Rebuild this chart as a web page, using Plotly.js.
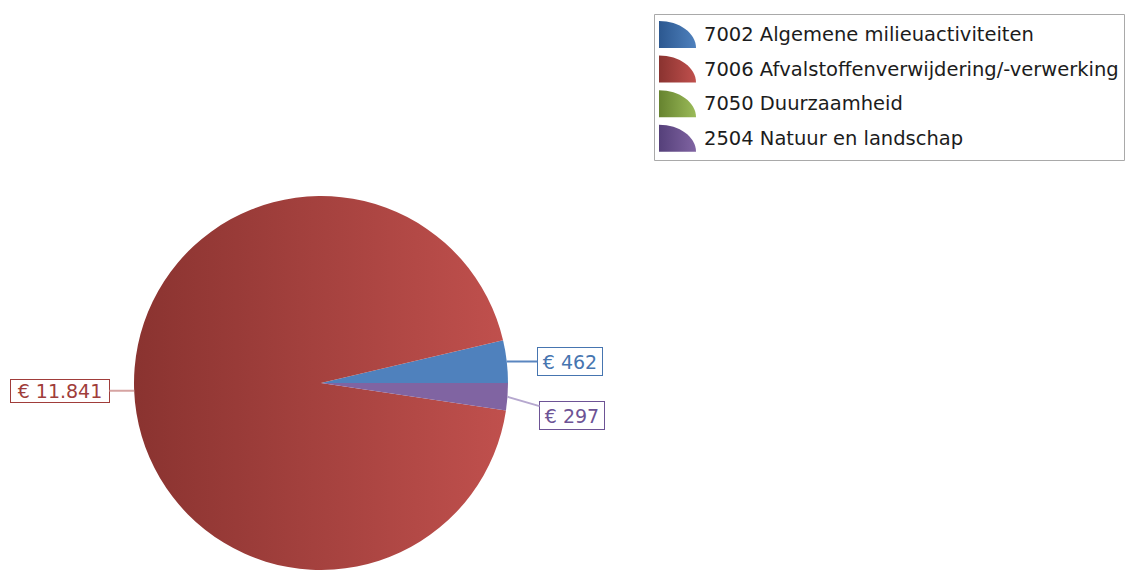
<!DOCTYPE html>
<html>
<head>
<meta charset="utf-8">
<script src="https://cdn.plot.ly/plotly-3.0.1.min.js"></script>
<style>
  html, body { margin: 0; padding: 0; background: #ffffff; }
  #chart { width: 1126px; height: 570px; }
</style>
</head>
<body>
<div id="chart"></div>
<script>
// ---- data ----
const categories = [
  '7002 Algemene milieuactiviteiten',
  '7006 Afvalstoffenverwijdering/-verwerking',
  '7050 Duurzaamheid',
  '2504 Natuur en landschap'
];
const values = [462, 11841, 0, 297];
const colors = ['#4F81BD', '#C0504D', '#9BBB59', '#8064A2'];
const darkColors = ['#2c5890', '#8a3330', '#66832f', '#55407a'];
const labelTextColors = ['#4675b0', '#a03d3a', '#7a9a40', '#6d5395'];
const leaderColors = ['#5a86c0', '#d6a4a2', '#b5cc8a', '#b6a8cf'];

// ---- layout helpers (pixels -> paper) ----
const W = 1126, H = 570;
const px = x => x / W;
const py = y => 1 - y / H;

const pieCx = 321, pieCy = 383, pieR = 187;
// label box centres (pixels), per slice index
const labelBoxes = { 0: [570, 361.5], 1: [60, 391], 2: null, 3: [572, 415.5] };
const labelSizes = { 0: [64, 27], 1: [98, 22], 3: [64, 27] };

function fmt(v) {
  return '€ ' + String(v).replace(/\B(?=(\d{3})+(?!\d))/g, '.');
}

// slice mid angles (counterclockwise from east, starting at east)
const total = values.reduce((a, b) => a + b, 0);
const annotations = [];
let acc = 0;
values.forEach((v, i) => {
  const a0 = acc / total * 2 * Math.PI;
  acc += v;
  const a1 = acc / total * 2 * Math.PI;
  if (v <= 0 || !labelBoxes[i]) return;
  const mid = (a0 + a1) / 2;
  const tipX = pieCx + pieR * Math.cos(mid);
  const tipY = pieCy - pieR * Math.sin(mid);
  const box = labelBoxes[i];
  annotations.push({
    xref: 'paper', yref: 'paper',
    x: px(tipX), y: py(tipY),
    ax: box[0] - tipX, ay: box[1] - tipY, axref: 'pixel', ayref: 'pixel',
    text: fmt(v),
    showarrow: true, arrowhead: 0, arrowwidth: 2, arrowcolor: leaderColors[i],
    font: { family: 'DejaVu Sans, Verdana, sans-serif', size: 19, color: labelTextColors[i] },
    bordercolor: labelTextColors[i], borderwidth: 1, borderpad: 0,
    bgcolor: '#ffffff',
    width: labelSizes[i][0], height: labelSizes[i][1],
    align: 'center', valign: 'middle'
  });
});

// ---- custom legend ----
const shapes = [{
  type: 'rect', xref: 'paper', yref: 'paper',
  x0: px(654.5), x1: px(1124.5), y0: py(14.5), y1: py(160.5),
  line: { color: '#a9a9a9', width: 1 }, fillcolor: 'rgba(0,0,0,0)'
}];
const rowStep = 34.6;
categories.forEach((c, i) => {
  const top = 21 + rowStep * i, bot = top + 27, L = 659, R = 696;
  const k = 0.5523;
  const path = 'M ' + px(L) + ',' + py(bot) +
    ' L ' + px(L) + ',' + py(top) +
    ' C ' + px(L + k * (R - L)) + ',' + py(top) + ' ' + px(R) + ',' + py(bot - k * (bot - top)) + ' ' + px(R) + ',' + py(bot) + ' Z';
  shapes.push({
    type: 'path', xref: 'paper', yref: 'paper', path: path,
    fillcolor: colors[i], line: { width: 0 }
  });
  annotations.push({
    xref: 'paper', yref: 'paper', x: px(703), y: py(34.5 + rowStep * i),
    xanchor: 'left', yanchor: 'middle', showarrow: false, borderpad: 0,
    text: c,
    font: { family: 'DejaVu Sans, Verdana, sans-serif', size: 19.5, color: '#1c1c1c' }
  });
});

// first slice should start at 3 o'clock and run counterclockwise
const rotation = 90 - 360 * values[0] / total;

const trace = {
  type: 'pie',
  labels: categories,
  values: values,
  sort: false,
  direction: 'counterclockwise',
  rotation: rotation,
  textinfo: 'none',
  hoverinfo: 'skip',
  showlegend: false,
  marker: { colors: colors, line: { width: 0 } },
  domain: { x: [px(pieCx - pieR), px(pieCx + pieR)], y: [Math.max(0, py(pieCy + pieR)), py(pieCy - pieR)] }
};

const layout = {
  width: W, height: H,
  margin: { l: 0, r: 0, t: 0, b: 0 },
  paper_bgcolor: '#ffffff', plot_bgcolor: '#ffffff',
  showlegend: false,
  shapes: shapes,
  annotations: annotations,
  font: { family: 'DejaVu Sans, Verdana, sans-serif' }
};

Plotly.newPlot('chart', [trace], layout, { staticPlot: true, displayModeBar: false }).then(gd => {
  // add horizontal gradients (dark left -> base right), like the original
  const svg = gd.querySelector('svg.main-svg');
  const NS = 'http://www.w3.org/2000/svg';
  const defs = document.createElementNS(NS, 'defs');
  colors.forEach((c, i) => {
    const lg = document.createElementNS(NS, 'linearGradient');
    lg.setAttribute('id', 'grad' + i);
    lg.setAttribute('x1', '0'); lg.setAttribute('y1', '0');
    lg.setAttribute('x2', '1'); lg.setAttribute('y2', '0');
    const s0 = document.createElementNS(NS, 'stop');
    s0.setAttribute('offset', '0'); s0.setAttribute('stop-color', darkColors[i]);
    const s1 = document.createElementNS(NS, 'stop');
    s1.setAttribute('offset', '1'); s1.setAttribute('stop-color', c);
    lg.appendChild(s0); lg.appendChild(s1);
    defs.appendChild(lg);
  });
  svg.insertBefore(defs, svg.firstChild);
  // red slice spans the whole pie width -> gradient
  gd.querySelectorAll('g.slice').forEach(g => {
    const d = g.__data__;
    if (d && d.i === 1) {
      const p = g.querySelector('path.surface');
      if (p) p.style.fill = 'url(#grad1)';
    }
  });
  // legend icons
  categories.forEach((c, i) => {
    const p = gd.querySelector('.shapelayer path[data-index="' + (i + 1) + '"]');
    if (p) p.style.fill = 'url(#grad' + i + ')';
  });
});
</script>
</body>
</html>
